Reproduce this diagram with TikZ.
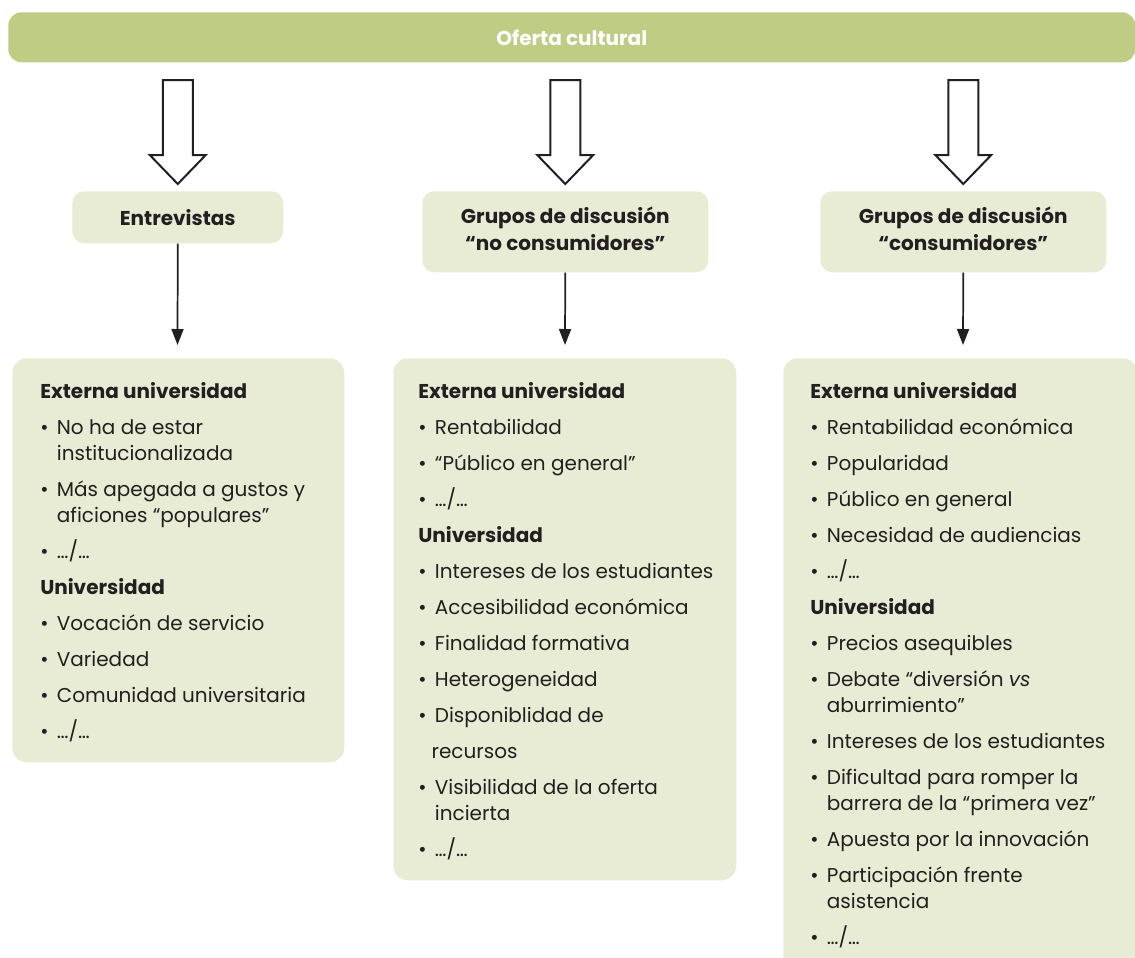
\documentclass[tikz,border=0pt]{standalone}
\usepackage{fontspec}
\setmainfont{Poppins}
\usepackage{tikz}
\usetikzlibrary{arrows.meta,calc,positioning}
\definecolor{verdebarra}{HTML}{BFCC84}
\definecolor{verdecaja}{HTML}{E8ECD4}
\definecolor{tinta}{HTML}{231F20}
\newcommand{\vineta}[1]{\makebox[12.5pt][l]{•}#1}
\newcommand{\sangria}[1]{\hspace*{12.5pt}#1}
\newcommand{\hueco}{\\[7.5pt]}
\tikzset{
  barra/.style={fill=verdebarra, rounded corners=10pt, inner sep=0pt, anchor=north west,
    text=white, font=\fontsize{15}{19.5}\selectfont\bfseries},
  cajita/.style={fill=verdecaja, rounded corners=9pt, inner sep=0pt, anchor=north west,
    align=center, text=tinta, font=\fontsize{15}{20.25}\selectfont\bfseries},
  cajon/.style={fill=verdecaja, rounded corners=11pt, inner sep=0pt, anchor=north west},
  lista/.style={anchor=north west, inner sep=0pt, align=left, text=tinta,
    font=\fontsize{15}{19.5}\selectfont},
  hueca/.style={draw=tinta, line width=1.5pt, fill=white, line join=miter},
  flecha/.style={draw=tinta, line width=1.3pt, -{Triangle[length=12pt, width=9pt]}}
}
\begin{document}
\begin{tikzpicture}[x=0.75pt, y=-0.75pt]
\useasboundingbox (0,0) rectangle (1135,957);

\node[barra, minimum width=845.25pt, minimum height=37.5pt] (oferta) at (8,12) {Oferta cultural};

\node[cajita, minimum width=158.25pt, minimum height=39pt] (entrev) at (72,191) {Entrevistas};
\node[cajita, minimum width=214.5pt, minimum height=60.75pt] (nocons) at (422,191)
  {Grupos de discusión\\“no consumidores”\vphantom{p}\raisebox{3pt}{}};
\node[cajita, minimum width=214.5pt, minimum height=60.75pt] (cons) at (820,191)
  {Grupos de discusión\\“consumidores”\vphantom{p}\raisebox{3pt}{}};

\foreach \n in {entrev,nocons,cons}
  \draw[hueca] ($(\n.north)+(0,-7)$) -- ++(-28,-29) -- ++(13,0) -- ++(0,-75)
    -- ++(30,0) -- ++(0,75) -- ++(13,0) -- cycle;

\node[cajon, minimum width=249pt, minimum height=303pt] (cajaent) at (12,358) {};
\node[cajon, minimum width=257.25pt, minimum height=391.5pt] (cajanocons) at (393,358) {};
\node[cajon, minimum width=265.5pt, minimum height=465pt] (cajacons) at (783,358) {};

\coordinate (finent) at (177.5,345);
\coordinate (finnocons) at (565,345);
\coordinate (fincons) at (963,345);
\draw[flecha] (entrev.south) -- (finent);
\draw[flecha] (nocons.south) -- (finnocons);
\draw[flecha] (cons.south) -- (fincons);

\node[lista] (listaent) at (40,382) {%
\textbf{Externa universidad}\hueco
\vineta{No ha de estar}\\
\sangria{institucionalizada}\hueco
\vineta{Más apegada a gustos y}\\
\sangria{aficiones “populares”}\hueco
\vineta{…/…}\hueco
\textbf{Universidad}\hueco
\vineta{Vocación de servicio}\hueco
\vineta{Variedad}\hueco
\vineta{Comunidad universitaria}\hueco
\vineta{…/…}};

\node[lista] (listanocons) at (418,382) {%
\textbf{Externa universidad}\hueco
\vineta{Rentabilidad}\hueco
\vineta{“Público en general”}\hueco
\vineta{…/…}\hueco
\textbf{Universidad}\hueco
\vineta{Intereses de los estudiantes}\hueco
\vineta{Accesibilidad económica}\hueco
\vineta{Finalidad formativa}\hueco
\vineta{Heterogeneidad}\hueco
\vineta{Disponiblidad de}\hueco
\hspace*{10pt}recursos\hueco
\vineta{Visibilidad de la oferta}\\
\sangria{incierta}\hueco
\vineta{…/…}};

\node[lista] (listacons) at (810,382) {%
\textbf{Externa universidad}\hueco
\vineta{Rentabilidad económica}\hueco
\vineta{Popularidad}\hueco
\vineta{Público en general}\hueco
\vineta{Necesidad de audiencias}\hueco
\vineta{…/…}\hueco
\textbf{Universidad}\hueco
\vineta{Precios asequibles}\hueco
\vineta{Debate “diversión \textit{vs}}\\
\sangria{aburrimiento”}\hueco
\vineta{Intereses de los estudiantes}\hueco
\vineta{Dificultad para romper la}\\
\sangria{barrera de la “primera vez”}\hueco
\vineta{Apuesta por la innovación}\hueco
\vineta{Participación frente}\\
\sangria{asistencia}\hueco
\vineta{…/…}};
\end{tikzpicture}
\end{document}
